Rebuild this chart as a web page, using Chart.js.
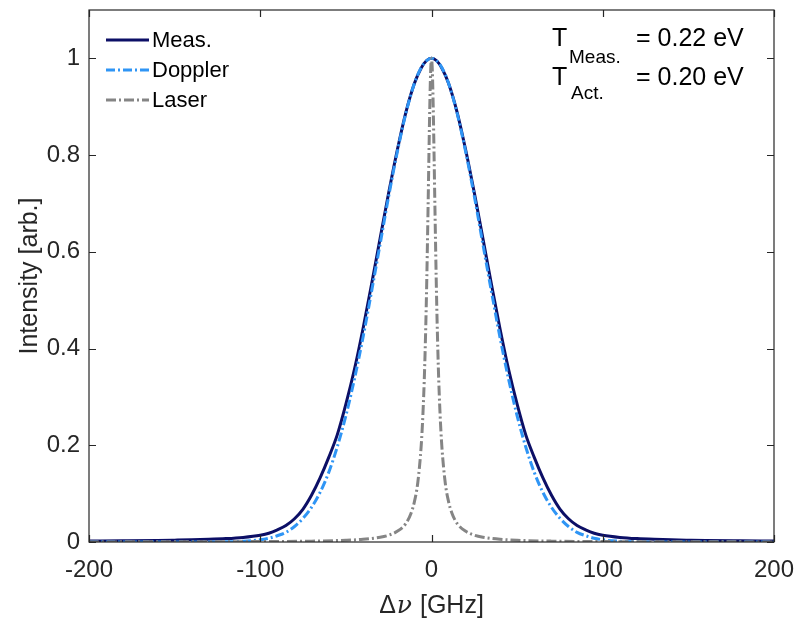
<!DOCTYPE html>
<html>
<head>
<meta charset="utf-8">
<script src="https://cdn.jsdelivr.net/npm/chart.js@4/dist/chart.umd.min.js"></script>
<style>
  html, body { margin: 0; padding: 0; background: #fff; }
  #wrap { width: 796px; height: 621px; }
</style>
</head>
<body>
<div id="wrap"><canvas id="lineChart" width="796" height="621"></canvas></div>
<script>
// frequency offset grid (GHz) for the broad profiles
const nuBroad = [-200, -180, -160, -150, -140, -130, -120, -110, -100, -95, -90, -85, -80, -75, -70, -65, -60, -55, -50, -45, -40, -35, -30, -25, -20, -15, -10, -6, -3, 0,
  3, 6, 10, 15, 20, 25, 30, 35, 40, 45, 50, 55, 60, 65, 70, 75, 80, 85, 90, 95, 100, 110, 120, 130, 140, 150, 160, 180, 200];

const measVals = [0.002, 0.0025, 0.0032, 0.0038, 0.0045, 0.0055, 0.007, 0.0095, 0.014, 0.018, 0.025, 0.034, 0.048, 0.068, 0.097, 0.133, 0.175, 0.222, 0.285, 0.357, 0.441, 0.533, 0.628, 0.722, 0.81, 0.888, 0.948, 0.98, 0.995, 1,
  0.995, 0.98, 0.948, 0.888, 0.81, 0.722, 0.628, 0.533, 0.441, 0.357, 0.285, 0.222, 0.175, 0.133, 0.097, 0.068, 0.048, 0.034, 0.025, 0.018, 0.014, 0.0095, 0.007, 0.0055, 0.0045, 0.0038, 0.0032, 0.0025, 0.002];

const dopplerVals = [0, 0, 0, 0, 0, 0, 0.0004, 0.0015, 0.0046, 0.0078, 0.013, 0.02, 0.032, 0.049, 0.072, 0.103, 0.144, 0.197, 0.261, 0.337, 0.423, 0.518, 0.616, 0.715, 0.806, 0.886, 0.948, 0.981, 0.995, 1,
  0.995, 0.981, 0.948, 0.886, 0.806, 0.715, 0.616, 0.518, 0.423, 0.337, 0.261, 0.197, 0.144, 0.103, 0.072, 0.049, 0.032, 0.02, 0.013, 0.0078, 0.0046, 0.0015, 0.0004, 0, 0, 0, 0, 0, 0];

// finer grid for the narrow laser line
const nuLaser = [-200, -150, -100, -70, -50, -40, -30, -25, -20, -15, -12, -10, -8, -6, -5, -4, -3, -2, -1.5, -1, -0.5, 0,
  0.5, 1, 1.5, 2, 3, 4, 5, 6, 8, 10, 12, 15, 20, 25, 30, 40, 50, 70, 100, 150, 200];

const laserVals = [0.0002, 0.0004, 0.0009, 0.0018, 0.0036, 0.0056, 0.0099, 0.014, 0.022, 0.038, 0.059, 0.083, 0.123, 0.2, 0.265, 0.36, 0.5, 0.692, 0.8, 0.9, 0.973, 1,
  0.973, 0.9, 0.8, 0.692, 0.5, 0.36, 0.265, 0.2, 0.123, 0.083, 0.059, 0.038, 0.022, 0.014, 0.0099, 0.0056, 0.0036, 0.0018, 0.0009, 0.0004, 0.0002];

const seriesNames = ["Meas.", "Doppler", "Laser"];
const xTicks = [-200, -100, 0, 100, 200];
const yTicks = [0, 0.2, 0.4, 0.6, 0.8, 1];

const FONT = "'Liberation Sans', Arial, Helvetica, sans-serif";
const INK = "#262626";

const toPts = (xs, ys) => xs.map((x, i) => ({ x: x, y: ys[i] }));

/* ===== box, inward ticks, legend and text ===== */
const framePlugin = {
  id: "frame",
  afterDatasetsDraw(chart) {
    const ctx = chart.ctx;
    const a = chart.chartArea;
    const xs = chart.scales.x, ys = chart.scales.y;
    ctx.save();
    ctx.strokeStyle = INK;
    ctx.lineWidth = 1.2;
    ctx.strokeRect(a.left, a.top, a.right - a.left, a.bottom - a.top);

    const len = 7;
    ctx.beginPath();
    xTicks.forEach(v => {
      const p = Math.round(xs.getPixelForValue(v)) + 0.5;
      ctx.moveTo(p, a.bottom); ctx.lineTo(p, a.bottom - len);
      ctx.moveTo(p, a.top); ctx.lineTo(p, a.top + len);
    });
    yTicks.forEach(v => {
      const p = Math.round(ys.getPixelForValue(v)) + 0.5;
      ctx.moveTo(a.left, p); ctx.lineTo(a.left + len, p);
      ctx.moveTo(a.right, p); ctx.lineTo(a.right - len, p);
    });
    ctx.stroke();

    // legend
    ctx.font = "22px " + FONT;
    ctx.textBaseline = "middle";
    ctx.textAlign = "left";
    chart.data.datasets.forEach((ds, i) => {
      const y = 40 + i * 30;
      ctx.beginPath();
      ctx.strokeStyle = ds.borderColor;
      ctx.lineWidth = ds.borderWidth;
      ctx.setLineDash(ds.borderDash || []);
      ctx.moveTo(106, y); ctx.lineTo(149, y);
      ctx.stroke();
      ctx.setLineDash([]);
      ctx.fillStyle = "#000";
      ctx.fillText(ds.label, 152, y + 1);
    });

    // temperature annotation
    ctx.fillStyle = "#000";
    ctx.textBaseline = "alphabetic";
    ctx.font = "25px " + FONT;
    ctx.fillText("T", 552, 46);
    ctx.fillText("= 0.22 eV", 636, 46);
    ctx.fillText("T", 552, 85);
    ctx.fillText("= 0.20 eV", 636, 85);
    ctx.font = "19px " + FONT;
    ctx.fillText("Meas.", 569, 63);
    ctx.fillText("Act.", 571, 99);

    // x title with italic nu
    ctx.fillStyle = INK;
    const t1 = "\u0394", t3 = " [GHz]";
    ctx.font = "25px " + FONT;
    const w1 = ctx.measureText(t1).width;
    const w3 = ctx.measureText(t3).width;
    ctx.font = "italic 25px 'DejaVu Serif', serif";
    const w2 = ctx.measureText("\u03bd").width;
    const cx = (a.left + a.right) / 2;
    const x0 = cx - (w1 + w2 + w3 + 2) / 2;
    ctx.font = "25px " + FONT;
    ctx.fillText(t1, x0, 613);
    ctx.font = "italic 25px 'DejaVu Serif', serif";
    ctx.fillText("\u03bd", x0 + w1 + 1, 613);
    ctx.font = "25px " + FONT;
    ctx.fillText(t3, x0 + w1 + w2 + 2, 613);

    // y title
    ctx.translate(37, (a.top + a.bottom) / 2);
    ctx.rotate(-Math.PI / 2);
    ctx.textAlign = "center";
    ctx.fillText("Intensity [arb.]", 0, 0);
    ctx.restore();
  }
};

new Chart(document.getElementById("lineChart"), {
  type: "line",
  data: {
    datasets: [
      {
        label: seriesNames[0],
        data: toPts(nuBroad, measVals),
        borderColor: "#0c0f66",
        borderWidth: 3,
        cubicInterpolationMode: "monotone",
        pointRadius: 0,
        order: 3
      },
      {
        label: seriesNames[1],
        data: toPts(nuBroad, dopplerVals),
        borderColor: "#2f95f5",
        borderWidth: 3,
        borderDash: [9, 3, 2, 3],
        cubicInterpolationMode: "monotone",
        pointRadius: 0,
        order: 2
      },
      {
        label: seriesNames[2],
        data: toPts(nuLaser, laserVals),
        borderColor: "#858585",
        borderWidth: 3,
        borderDash: [10, 3, 2, 3],
        cubicInterpolationMode: "monotone",
        pointRadius: 0,
        order: 1
      }
    ]
  },
  options: {
    responsive: false,
    animation: false,
    layout: { padding: { left: 0, right: 22, top: 10, bottom: 0 } },
    plugins: { legend: { display: false }, tooltip: { enabled: false } },
    scales: {
      x: {
        type: "linear",
        min: -200, max: 200,
        grid: { display: false, drawTicks: false },
        border: { display: false },
        afterBuildTicks: s => { s.ticks = xTicks.map(v => ({ value: v })); },
        afterFit: s => { s.height = 79; s.paddingLeft = 0; s.paddingRight = 0; },
        ticks: { color: INK, font: { family: FONT, size: 24 }, padding: 14, maxRotation: 0 }
      },
      y: {
        min: 0, max: 1.1,
        grid: { display: false, drawTicks: false },
        border: { display: false },
        afterBuildTicks: s => { s.ticks = yTicks.map(v => ({ value: v })); },
        afterFit: s => { s.width = 89; s.paddingTop = 0; s.paddingBottom = 0; },
        ticks: {
          color: INK, font: { family: FONT, size: 24 }, padding: 9,
          callback: v => String(Math.round(v * 10) / 10)
        }
      }
    }
  },
  plugins: [framePlugin]
});
</script>
</body>
</html>
